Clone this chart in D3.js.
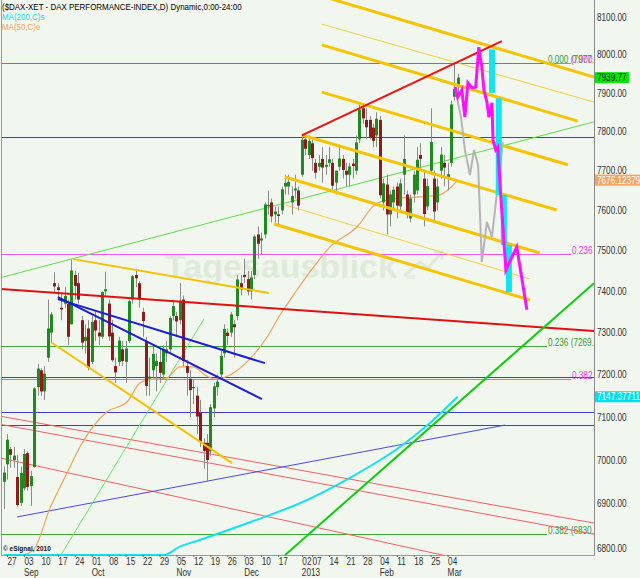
<!DOCTYPE html>
<html><head><meta charset="utf-8">
<script src="https://cdn.jsdelivr.net/npm/d3@7"></script>
<style>body{margin:0;background:#f1f6ef}svg{display:block}text{font-family:"Liberation Sans",Arial,sans-serif}</style>
</head><body><svg id="c" width="640" height="578"></svg>
<script>
// ---------- data ----------
const title = "($DAX-XET - DAX PERFORMANCE-INDEX,D) Dynamic,0:00-24:00";
const startDate = "2012-08-24";
const holidays = ["2012-12-24","2012-12-25","2012-12-26","2012-12-31","2013-01-01"];
const open  = [6950,6990,7025,7000,6961,6902,6935,7016,6940,6984,7170,7210,7160,7240,7300,7420,7410,7360,7370,7370,7320,7440,7420,7330,7280,7310,7230,7330,7300,7290,7400,7370,7300,7220,7230,7260,7230,7280,7380,7440,7420,7350,7280,7190,7210,7220,7230,7200,7250,7260,7340,7340,7330,7380,7220,7190,7170,7150,7110,7040,7040,7020,7120,7170,7200,7250,7300,7300,7320,7340,7420,7440,7430,7400,7440,7540,7525,7540,7610,7620,7590,7590,7600,7660,7660,7620,7650,7650,7690,7780,7740,7770,7720,7710,7730,7710,7720,7720,7670,7710,7730,7700,7690,7718,7700,7780,7860,7830,7830,7810,7790,7830,7620,7665,7590,7620,7660,7610,7690,7640,7580,7640,7650,7740,7680,7610,7700,7680,7620,7700,7720,7680,7720,7890,7920];
const high  = [6985,7060,7030,7030,7012,6985,7025,7020,6975,7170,7225,7215,7220,7380,7350,7447,7420,7395,7410,7380,7478,7450,7445,7340,7320,7330,7340,7350,7330,7400,7448,7380,7330,7240,7290,7280,7280,7380,7440,7455,7425,7360,7290,7240,7270,7250,7260,7270,7280,7340,7380,7350,7420,7390,7235,7210,7190,7170,7140,7050,7060,7130,7180,7200,7260,7320,7310,7350,7330,7440,7440,7480,7450,7450,7540,7560,7545,7620,7650,7630,7610,7610,7660,7690,7690,7660,7690,7660,7790,7790,7790,7780,7730,7740,7760,7740,7760,7730,7700,7760,7740,7720,7720,7730,7790,7870,7870,7860,7840,7820,7850,7840,7680,7690,7650,7660,7670,7680,7790,7650,7640,7700,7760,7770,7700,7680,7860,7700,7680,7760,7740,7720,7880,7977,7950];
const low   = [6888,6955,6982,6982,6893,6895,6930,6930,6895,6982,7150,7150,7140,7230,7275,7395,7380,7330,7360,7270,7320,7380,7370,7260,7250,7210,7225,7280,7270,7285,7390,7280,7230,7180,7220,7220,7180,7275,7370,7410,7360,7290,7150,7150,7190,7160,7180,7190,7230,7250,7330,7290,7320,7220,7150,7100,7130,7060,7030,6980,6950,7010,7100,7150,7190,7240,7270,7290,7240,7330,7390,7420,7390,7380,7430,7480,7490,7530,7590,7570,7570,7560,7590,7640,7640,7590,7630,7600,7685,7740,7730,7700,7680,7700,7670,7690,7710,7650,7640,7700,7680,7660,7660,7680,7690,7770,7820,7780,7780,7760,7760,7630,7600,7540,7560,7600,7580,7600,7640,7580,7570,7620,7640,7700,7560,7600,7690,7570,7600,7680,7660,7650,7710,7880,7890];
const close = [6971,7047,7012,7010,6897,6970,7014,6938,6963,7167,7214,7160,7202,7310,7344,7412,7403,7356,7389,7290,7451,7413,7380,7276,7290,7216,7326,7305,7291,7398,7405,7291,7234,7205,7281,7232,7262,7376,7437,7432,7380,7328,7173,7195,7249,7232,7204,7261,7260,7335,7364,7327,7377,7232,7204,7163,7168,7101,7043,7021,7000,7123,7172,7183,7244,7309,7292,7344,7313,7429,7405,7435,7400,7434,7535,7517,7530,7615,7614,7585,7597,7586,7653,7669,7672,7636,7655,7612,7779,7756,7776,7732,7695,7720,7708,7715,7729,7662,7700,7731,7702,7690,7711,7712,7772,7857,7834,7811,7785,7776,7833,7638,7668,7590,7640,7652,7612,7668,7730,7593,7630,7690,7728,7730,7591,7661,7773,7597,7660,7741,7708,7691,7870,7910,7939.77];

// moving averages [trading-day index, value]
const ma50  = [[0,6640],[5,6700],[8.7,6795],[13.7,6890],[18.7,6970],[22.5,7030],[30.5,7112],[36.4,7135],[40.2,7180],[42.6,7187],[48.2,7192],[52,7218],[55.9,7218],[60,7196],[62.9,7189],[67.7,7203],[72.7,7237],[77.7,7289],[81.5,7342],[85.1,7386],[91.9,7464],[96.3,7509],[104.2,7558],[110.1,7618],[116.9,7631],[122.8,7634],[128.7,7639],[131.7,7656],[134,7676.12379]];
const ma200 = [[0,6560],[20,6620],[40,6700],[47.3,6784],[52,6803],[57.9,6818],[72.7,6858],[87.4,6901],[102.2,6959],[116.9,7030],[125.8,7086],[134,7147.37711]];

// trend lines [index, price] pairs
const redMain   = [[-1.1,7406],[174.2,7304]];
const redUpper  = [[88,7790],[147,8036]];
const redThin   = [[[-1.1,7102],[174.2,6856]],[[-1.1,7083],[174.2,6831]],[[-1.1,7005],[129.6,6784]]];
const blueSupport = [[4,6870],[147.9,7081]];
const blueDown  = [[[16,7381],[77.1,7227]],[[16,7386],[76.2,7142]]];
const yellowLow = [[[20.5,7479],[78.3,7396]],[[14,7277],[67.4,6993]]];
const channelThick = [[[93.9,8156],[174.2,7941]],[[93.9,8026],[169.4,7827]],[[93.9,7902],[166.5,7715]],[[88,7791],[163.2,7601]],[[83,7684],[158.2,7494]],[[79.8,7566],[155.3,7379]]];
const channelThin  = [[[93.9,8081],[174.2,7876]],[[83,7614],[155.3,7430]]];
const greenLong   = [[-1.1,7433],[174.2,7825]];
const greenBright = [[83,6784],[174.2,7420]];
const greenSteep  = [[16.9,6784],[59.1,7333]];
const blueLevels  = [7786,7194,7112,7081];
const fibGreen    = [7977,7269.13,6830.42];
const fibGreenLbl = ["0.000 (7977.00)","0.236 (7269.13)","0.382 (6830.42)"];
const fibMag      = [7977,7491.95,7190.39];
const fibMagLbl   = ["0.000 (7977.00)","0.236","0.382"];
const grayPath = [[133.2,7913],[135,7835],[136.1,7753],[137.6,7689],[138.8,7753],[140,7715],[141.1,7472],[142.6,7571],[144.1,7534],[145.5,7639],[147.3,7773]];
const magPath  = [[133.2,7915],[134,7889],[135.2,7908],[136.1,7837],[137,7926],[138.2,7913],[139.3,7915],[140.2,8020],[141.1,7968],[141.7,7908],[142.6,7876],[143.2,7837],[144.1,7874],[144.4,7778],[145.2,7753],[145.8,7760],[146.7,7634],[148.2,7452],[151.4,7509],[154.4,7355]];
const cyanBars = [[144.1,8014,7900],[146.1,7886,7639],[147.6,7639,7514],[149.1,7514,7398]];
const yTicks = d3.range(6800, 8101, 100);
const tags = [{v:7939.77,t:"7939.77",bg:"#00e800",fg:"#102010",w:34},{v:7676.12379,t:"7676.12379",bg:"#f3a463",fg:"#ffffff",w:46},{v:7147.37711,t:"7147.37711",bg:"#00e0ec",fg:"#ffffff",w:46}];

// ---------- dates ----------
const dates = [];
{ let d = new Date(startDate + "T00:00:00Z");
  while (dates.length < close.length) {
    const wd = d.getUTCDay(), s = d.toISOString().slice(0,10);
    if (wd !== 0 && wd !== 6 && !holidays.includes(s)) dates.push(new Date(d));
    d.setUTCDate(d.getUTCDate() + 1);
  } }
const weekKey = dt => { const m = new Date(dt); m.setUTCDate(m.getUTCDate() - ((m.getUTCDay()+6)%7)); return m.toISOString().slice(0,10); };
const weeks = d3.group(d3.range(dates.length), i => weekKey(dates[i]));
const ticks = [];
for (const [k, arr] of weeks) if (arr.length >= 3) ticks.push(arr[0]);
const monthNames = ["Jan","Feb","Mar","Apr","May","Jun","Jul","Aug","Sep","Oct","Nov","Dec"];

// ---------- scales ----------
const svg = d3.select("#c");
const x = d3.scaleLinear().domain([0, 174.2]).range([3.61, 594]);
const y = d3.scaleLog().domain([6800, 8100]).range([548, 17]);
const yBottom = 555;
const yc = v => Math.min(yBottom, y(v));
const line = d3.line().x(d => x(d[0])).y(d => y(d[1]));
const lineC = d3.line().x(d => x(d[0])).y(d => yc(d[1])).curve(d3.curveMonotoneX);

svg.append("rect").attr("width",640).attr("height",578).attr("fill","#f1f6ef");
svg.append("defs").append("clipPath").attr("id","clip").append("rect").attr("x",1).attr("y",0).attr("width",593).attr("height",yBottom);

// watermark
const wm = svg.append("g").attr("class","wm");
wm.append("text").attr("x",165).attr("y",278).attr("font-size",34).attr("font-weight","bold").attr("fill","#e0eada").text("Tagesausblick");
wm.append("text").attr("x",406).attr("y",279).attr("font-size",8).attr("font-weight","bold").attr("fill","#e0eada").text("de");
wm.append("path").attr("d","M404,276 L420,262 L428,268 L442,252 M434,252 L442,252 L442,260").attr("fill","none").attr("stroke","#e0eada").attr("stroke-width",3);

const g = svg.append("g").attr("clip-path","url(#clip)");
const drawLine = (pts, color, w) => g.append("path").attr("d", line(pts)).attr("fill","none").attr("stroke",color).attr("stroke-width",w);

// horizontal levels
blueLevels.forEach(v => g.append("line").attr("x1",0).attr("x2",594).attr("y1",Math.round(y(v))+0.5).attr("y2",Math.round(y(v))+0.5).attr("stroke","#3c3cd0"));
fibMag.forEach((v,k) => {
  const yy = Math.round(y(v))+0.5;
  g.append("line").attr("x1",0).attr("x2",x(167.4)).attr("y1",yy).attr("y2",yy).attr("stroke","#ff50ff");
  g.append("text").attr("class","n").attr("x",x(167.4)+1).attr("y",yy-1).attr("font-size",10).attr("fill","#ff30ff").text(fibMagLbl[k]);
});
fibGreen.forEach((v,k) => {
  const yy = Math.round(y(v))+0.5;
  g.append("line").attr("x1",0).attr("x2",x(160.3)).attr("y1",yy).attr("y2",yy).attr("stroke","#3aa83a");
  g.append("text").attr("class","n").attr("x",x(160.3)+1).attr("y",yy-1).attr("font-size",10).attr("fill","#2f9a2f").text(fibGreenLbl[k]);
});

// thin lines
redThin.forEach(p => drawLine(p, "#f06060", 1));
drawLine(blueSupport, "#4848e8", 1);
drawLine(greenLong, "#5edc4a", 1);
drawLine(greenSteep, "#66e866", 1);
channelThin.forEach(p => drawLine(p, "#f2cf3a", 1));

// moving averages
g.append("path").attr("d", lineC(ma50)).attr("fill","none").attr("stroke","#f2a25a").attr("stroke-width",1.2);
g.append("path").attr("d", lineC(ma200)).attr("fill","none").attr("stroke","#19e0ee").attr("stroke-width",2);

// candles
const idx = d3.range(close.length);
g.selectAll(".wick").data(idx).join("line")
  .attr("x1", i => Math.round(x(i))+0.5).attr("x2", i => Math.round(x(i))+0.5)
  .attr("y1", i => y(high[i])).attr("y2", i => y(low[i])).attr("stroke","#8a8a8a");
g.selectAll(".body").data(idx).join("rect")
  .attr("x", i => Math.round(x(i))-1).attr("width",3)
  .attr("y", i => y(Math.max(open[i],close[i])))
  .attr("height", i => Math.max(1, Math.abs(y(open[i]) - y(close[i]))))
  .attr("fill", i => close[i] > open[i] ? "#1f8a1f" : (close[i] < open[i] ? "#8c1c1c" : "#777"));

// thick trend lines
yellowLow.forEach(p => drawLine(p, "#f2c200", 2));
channelThick.forEach(p => drawLine(p, "#f5c400", 3));
drawLine(redMain, "#e01010", 2);
drawLine(redUpper, "#f01010", 2);
blueDown.forEach(p => drawLine(p, "#1c1cd0", 2));
drawLine(greenBright, "#10cc10", 2);

// projections
drawLine(grayPath, "#b4b4b4", 2);
cyanBars.forEach(b => g.append("line").attr("x1",x(b[0])).attr("x2",x(b[0])).attr("y1",y(b[1])).attr("y2",y(b[2])).attr("stroke","#14e4f0").attr("stroke-width",6));
drawLine(magPath, "#ff10ff", 3);

// frame
svg.append("line").attr("x1",1.5).attr("x2",1.5).attr("y1",0).attr("y2",yBottom).attr("stroke","#9a9a9a");
svg.append("line").attr("x1",594.5).attr("x2",594.5).attr("y1",0).attr("y2",yBottom+0.5).attr("stroke","#8a8a8a");
svg.append("line").attr("x1",1).attr("x2",595).attr("y1",yBottom+0.5).attr("y2",yBottom+0.5).attr("stroke","#9a9a9a");

// y axis
const ya = svg.append("g").attr("transform","translate(594,0)")
  .call(d3.axisRight(y).tickValues(yTicks).tickFormat(d3.format(".2f")).tickSize(0).tickPadding(3));
ya.select(".domain").remove();
ya.selectAll("text").attr("class","n").attr("font-size",10).attr("fill","#303030").style("font-family",null);

// price tags
tags.forEach(t => {
  const yy = y(t.v);
  svg.append("rect").attr("x",595).attr("y",yy-5.5).attr("width",t.w).attr("height",11).attr("fill",t.bg);
  svg.append("text").attr("class","n").attr("x",597).attr("y",yy+3.5).attr("font-size",10).attr("fill",t.fg).text(t.t);
});

// x axis
const xa = svg.append("g").attr("transform",`translate(0,${yBottom})`)
  .call(d3.axisBottom(x).tickValues(ticks).tickSize(2).tickPadding(1)
    .tickFormat(i => String(dates[i].getUTCDate()).padStart(2,"0")));
xa.select(".domain").remove();
xa.selectAll(".tick line").attr("stroke","#666");
xa.selectAll("text").attr("class","n").attr("text-anchor","start").attr("font-size",10).attr("fill","#303030").style("font-family",null).attr("dy","0.71em");
ticks.forEach((i,k) => {
  if (k === 0) return;
  const m = dates[i].getUTCMonth(), pm = dates[ticks[k-1]].getUTCMonth();
  if (m !== pm) svg.append("text").attr("class","n").attr("x", x(i)).attr("y", 576).attr("font-size",10).attr("fill","#303030")
    .text(m === 0 ? String(dates[i].getUTCFullYear()) : monthNames[m]);
});

// titles
svg.append("text").attr("class","n").attr("x",2).attr("y",9.5).attr("font-size",9.7).attr("fill","#000").text(title);
svg.append("text").attr("class","n").attr("x",2).attr("y",19.5).attr("font-size",9.7).attr("fill","#18d8e8").text("MA(200,C)s");
svg.append("text").attr("class","n").attr("x",2).attr("y",29.5).attr("font-size",9.7).attr("fill","#f0a060").text("MA(50,C)e");
svg.append("text").attr("x",3).attr("y",551).attr("font-size",6.5).attr("font-weight","bold").attr("fill","#111").text("© eSignal, 2010");

// condensed look (narrow typeface substitute)
svg.selectAll("text.n").each(function(){
  const L = this.getComputedTextLength();
  d3.select(this).attr("textLength", L*0.82).attr("lengthAdjust","spacingAndGlyphs");
});
</script></body></html>
